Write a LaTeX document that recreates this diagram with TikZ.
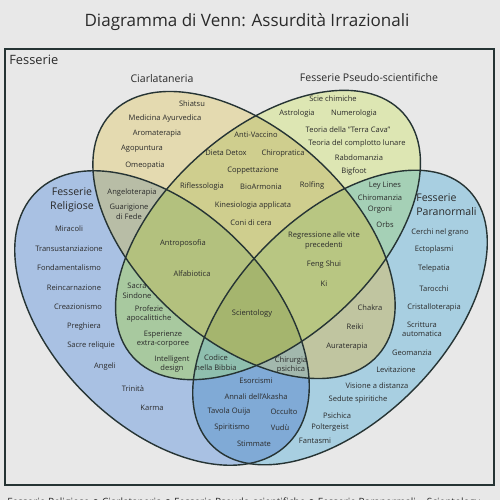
\documentclass[tikz,border=0pt]{standalone}
\usepackage{fontspec}
\setmainfont{Open Sans}
\newfontfamily\symf{DejaVu Sans}
\definecolor{cbg}{HTML}{E8E8E8}
\definecolor{cC}{HTML}{E4DAB0}
\definecolor{cP}{HTML}{DDE6B3}
\definecolor{cR}{HTML}{A9C1E3}
\definecolor{cN}{HTML}{A8CFE1}
\definecolor{cCP}{HTML}{CFCE8E}
\definecolor{cCR}{HTML}{B8BDA6}
\definecolor{cCN}{HTML}{C0C5A0}
\definecolor{cPR}{HTML}{A8C99F}
\definecolor{cPN}{HTML}{A5D0B6}
\definecolor{cRN}{HTML}{80AAD6}
\definecolor{cCPR}{HTML}{B3C17E}
\definecolor{cCPN}{HTML}{B8C682}
\definecolor{cPRN}{HTML}{8FBFAE}
\definecolor{cCRN}{HTML}{A2B8AD}
\definecolor{cCPRN}{HTML}{A5B56E}
\definecolor{olc}{HTML}{263434}
\definecolor{txt}{HTML}{2A2A2A}
\begin{document}
\begin{tikzpicture}[x=0.02cm,y=-0.02cm,
  it/.style={font=\fontsize{4.3}{5.4}\selectfont,text=txt,inner sep=0pt,align=center},
  grp/.style={font=\fontsize{6.0}{8}\selectfont,text=txt,inner sep=0pt,align=center},
  outl/.style={draw=olc,line width=0.8pt},
  eC/.style={shift={(244,235)},rotate=-42,x radius=180,y radius=105},
  eP/.style={shift={(268,235)},rotate=42,x radius=182,y radius=105},
  eR/.style={shift={(162,318)},rotate=-45,x radius=178,y radius=108},
  eN/.style={shift={(340,317.5)},rotate=45,x radius=181,y radius=103}]
\useasboundingbox (0,0) rectangle (500,500);
\fill[cbg] (0,0) rectangle (500,500);
\draw[olc,line width=0.85pt] (5,49) rectangle (494,485);
% singles
\fill[cR,eR] (0,0) ellipse [];
\fill[cN,eN] (0,0) ellipse [];
\fill[cC,eC] (0,0) ellipse [];
\fill[cP,eP] (0,0) ellipse [];
% pairs
\begin{scope}\clip[eC] (0,0) ellipse []; \fill[cCP,eP] (0,0) ellipse [];\end{scope}
\begin{scope}\clip[eC] (0,0) ellipse []; \fill[cCR,eR] (0,0) ellipse [];\end{scope}
\begin{scope}\clip[eC] (0,0) ellipse []; \fill[cCN,eN] (0,0) ellipse [];\end{scope}
\begin{scope}\clip[eP] (0,0) ellipse []; \fill[cPR,eR] (0,0) ellipse [];\end{scope}
\begin{scope}\clip[eP] (0,0) ellipse []; \fill[cPN,eN] (0,0) ellipse [];\end{scope}
\begin{scope}\clip[eR] (0,0) ellipse []; \fill[cRN,eN] (0,0) ellipse [];\end{scope}
% triples
\begin{scope}\clip[eC] (0,0) ellipse []; \clip[eP] (0,0) ellipse []; \fill[cCPR,eR] (0,0) ellipse [];\end{scope}
\begin{scope}\clip[eC] (0,0) ellipse []; \clip[eP] (0,0) ellipse []; \fill[cCPN,eN] (0,0) ellipse [];\end{scope}
\begin{scope}\clip[eP] (0,0) ellipse []; \clip[eR] (0,0) ellipse []; \fill[cPRN,eN] (0,0) ellipse [];\end{scope}
\begin{scope}\clip[eC] (0,0) ellipse []; \clip[eR] (0,0) ellipse []; \fill[cCRN,eN] (0,0) ellipse [];\end{scope}
% all four
\begin{scope}\clip[eC] (0,0) ellipse []; \clip[eP] (0,0) ellipse []; \clip[eR] (0,0) ellipse []; \fill[cCPRN,eN] (0,0) ellipse [];\end{scope}
% outlines
\draw[outl,eR] (0,0) ellipse [];
\draw[outl,eN] (0,0) ellipse [];
\draw[outl,eC] (0,0) ellipse [];
\draw[outl,eP] (0,0) ellipse [];
% titles
\node[font=\fontsize{9.7}{11}\selectfont,text=txt,inner sep=0pt] (title) at (247,22) {Diagramma di Venn: Assurdità Irrazionali};
\node[font=\fontsize{7.3}{9}\selectfont,text=txt,inner sep=0pt,anchor=west] (fess) at (9,60) {Fesserie};
\node[grp] (gC) at (162,79) {Ciarlataneria};
\node[grp] (gP) at (369,78) {Fesserie Pseudo-scientifiche};
\node[grp] (gR) at (72,200) {Fesserie\\Religiose};
\node[grp,anchor=west,align=left] (gN) at (416,205) {Fesserie\\Paranormali};
% Ciarlataneria
\node[it] (i1) at (192,104) {Shiatsu};
\node[it] (i2) at (165,119) {Medicina Ayurvedica};
\node[it] (i3) at (157,134) {Aromaterapia};
\node[it] (i4) at (142,149) {Agopuntura};
\node[it] (i5) at (145,166) {Omeopatia};
% C and R
\node[it] (i6) at (132,193) {Angeloterapia};
\node[it] (i7) at (129,212) {Guarigione\\di Fede};
% C and P
\node[it] (i8) at (256,135) {Anti-Vaccino};
\node[it] (i9) at (226,153) {Dieta Detox};
\node[it] (i10) at (283,154) {Chiropratica};
\node[it] (i11) at (253,171) {Coppettazione};
\node[it] (i12) at (202,187) {Riflessologia};
\node[it] (i13) at (261,187) {BioArmonia};
\node[it] (i14) at (312,186) {Rolfing};
\node[it] (i15) at (253,206) {Kinesiologia applicata};
\node[it] (i16) at (251,223) {Coni di cera};
% P
\node[it] (i17) at (333,99) {Scie chimiche};
\node[it] (i18) at (297,114) {Astrologia};
\node[it] (i19) at (354,114) {Numerologia};
\node[it] (i20) at (348,130) {Teoria della "Terra Cava"};
\node[it] (i21) at (357,144) {Teoria del complotto lunare};
\node[it] (i22) at (359,158) {Rabdomanzia};
\node[it] (i23) at (354,172) {Bigfoot};
% P and N
\node[it] (i24) at (385,186) {Ley Lines};
\node[it] (i25) at (380,198) {Chiromanzia};
\node[it] (i26) at (380,210) {Orgoni};
\node[it] (i27) at (385,225) {Orbs};
% N
\node[it] (i28) at (440,233) {Cerchi nel grano};
\node[it] (i29) at (434,250) {Ectoplasmi};
\node[it] (i30) at (434,269) {Telepatia};
\node[it] (i31) at (434,289) {Tarocchi};
\node[it] (i32) at (434,308) {Cristalloterapia};
\node[it] (i33) at (422,329.5) {Scrittura\\automatica};
\node[it] (i34) at (412,353) {Geomanzia};
\node[it] (i35) at (396,370) {Levitazione};
\node[it] (i36) at (377,386) {Visione a distanza};
\node[it] (i37) at (358,400) {Sedute spiritiche};
\node[it] (i38) at (337,416) {Psichica};
\node[it] (i39) at (330,428) {Poltergeist};
\node[it] (i40) at (315,441) {Fantasmi};
% C and N
\node[it] (i41) at (370,308) {Chakra};
\node[it] (i42) at (355,327) {Reiki};
\node[it] (i43) at (347,347) {Auraterapia};
% C P N
\node[it] (i44) at (324,240.5) {Regressione alle vite\\precedenti};
\node[it] (i45) at (324,265) {Feng Shui};
\node[it] (i46) at (324,284) {Ki};
% C P R
\node[it] (i47) at (183,244) {Antroposofia};
\node[it] (i48) at (192,274) {Alfabiotica};
% all
\node[it] (i49) at (252,314) {Scientology};
% P and R
\node[it] (i50) at (137,291) {Sacra\\Sindone};
\node[it] (i51) at (149,314) {Profezie\\apocalittiche};
\node[it] (i52) at (163,339) {Esperienze\\extra-corporee};
\node[it] (i53) at (172,364) {Intelligent\\design};
% P R N
\node[it] (i54) at (216,362.5) {Codice\\nella Bibbia};
% C R N
\node[it] (i55) at (291,365) {Chirurgia\\psichica};
% R and N
\node[it] (i56) at (256,381) {Esorcismi};
\node[it] (i57) at (256,397) {Annali dell'Akasha};
\node[it] (i58) at (229,412) {Tavola Ouija};
\node[it] (i59) at (284,412) {Occulto};
\node[it] (i60) at (232,428) {Spiritismo};
\node[it] (i61) at (280,428) {Vudù};
\node[it] (i62) at (254,444) {Stimmate};
% R
\node[it] (i63) at (69,229) {Miracoli};
\node[it] (i64) at (69,249) {Transustanziazione};
\node[it] (i65) at (69,268) {Fondamentalismo};
\node[it] (i66) at (74,288) {Reincarnazione};
\node[it] (i67) at (78,307) {Creazionismo};
\node[it] (i68) at (84,327) {Preghiera};
\node[it] (i69) at (91,346) {Sacre reliquie};
\node[it] (i70) at (105,367) {Angeli};
\node[it] (i71) at (133,389) {Trinità};
\node[it] (i72) at (152,408) {Karma};
% bottom caption, cut by the page edge
\node[font=\fontsize{5.7}{7}\selectfont,text=txt,inner sep=0pt,anchor=base west] (cap) at (7,505) {Fesserie Religiose {\symf ∩} Ciarlataneria {\symf ∩} Fesserie Pseudo-scientifiche {\symf ∩} Fesserie Paranormali = Scientology};
\end{tikzpicture}
\end{document}
